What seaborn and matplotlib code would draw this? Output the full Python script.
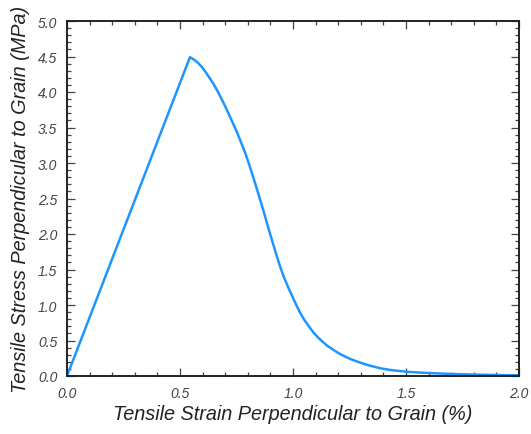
import matplotlib
matplotlib.use("Agg")
import matplotlib.pyplot as plt
from matplotlib.ticker import MultipleLocator
import seaborn as sns
import pandas as pd

strain = [0.0, 0.544, 0.56, 0.58, 0.60, 0.62, 0.647, 0.67, 0.692, 0.71, 0.73,
          0.75, 0.765, 0.79, 0.81, 0.83, 0.85, 0.87, 0.884, 0.91, 0.93, 0.942,
          0.96, 0.98, 1.0, 1.016, 1.03, 1.05, 1.07, 1.09, 1.11, 1.13, 1.15,
          1.164, 1.19, 1.208, 1.23, 1.25, 1.27, 1.296, 1.33, 1.36, 1.385,
          1.42, 1.45, 1.503, 1.55, 1.58, 1.65, 1.72, 1.80, 1.9, 2.0]
stress = [0.0, 4.49, 4.46, 4.41, 4.34, 4.25, 4.12, 3.99, 3.85, 3.73, 3.59,
          3.45, 3.33, 3.13, 2.94, 2.74, 2.53, 2.32, 2.16, 1.88, 1.67, 1.55,
          1.39, 1.24, 1.10, 0.99, 0.90, 0.79, 0.70, 0.615, 0.545, 0.485, 0.43,
          0.40, 0.345, 0.31, 0.275, 0.245, 0.22, 0.19, 0.155, 0.13, 0.11,
          0.09, 0.078, 0.06, 0.05, 0.045, 0.035, 0.027, 0.02, 0.014, 0.01]
x_ticks = [0.0, 0.5, 1.0, 1.5, 2.0]
y_ticks = [0.0, 0.5, 1.0, 1.5, 2.0, 2.5, 3.0, 3.5, 4.0, 4.5, 5.0]

df = pd.DataFrame({"strain": strain, "stress": stress})

sns.set_style("ticks")
plt.rcParams["font.family"] = ["Liberation Sans", "DejaVu Sans"]

fig = plt.figure(figsize=(5.31, 4.35), dpi=100)
ax = fig.add_axes([67 / 531, 58 / 435, (519 - 67) / 531, (377 - 22) / 435])

sns.lineplot(data=df, x="strain", y="stress", ax=ax, color="#1E96FF",
             linewidth=1.8, sort=False, estimator=None)

ax.set_xlim(0, 2.0)
ax.set_ylim(0, 5.0)
ax.set_xticks(x_ticks)
ax.set_yticks(y_ticks)
ax.set_xticklabels([f"{v:.1f}" for v in x_ticks])
ax.set_yticklabels([f"{v:.1f}" for v in y_ticks])
ax.xaxis.set_minor_locator(MultipleLocator(0.1))
ax.yaxis.set_minor_locator(MultipleLocator(0.1))

ax.tick_params(which="both", direction="in", top=True, right=True,
               color="#444444", width=0.9)
ax.tick_params(which="major", length=5.5, labelsize=10, labelcolor="#444444")
ax.tick_params(axis="x", which="major", pad=7)
ax.tick_params(axis="y", which="major", pad=7)
ax.tick_params(which="minor", length=3)
for lab in ax.get_xticklabels() + ax.get_yticklabels():
    lab.set_style("italic")

for s in ax.spines.values():
    s.set_visible(True)
    s.set_linewidth(1.4)
    s.set_color("#222222")

ax.set_xlabel("Tensile Strain Perpendicular to Grain (%)", fontsize=14.3,
              style="italic", color="#222222", labelpad=3)
ax.set_ylabel("Tensile Stress Perpendicular to Grain (MPa)", fontsize=14.3,
              style="italic", color="#222222", labelpad=6)

fig.savefig("out.png", dpi=100)
